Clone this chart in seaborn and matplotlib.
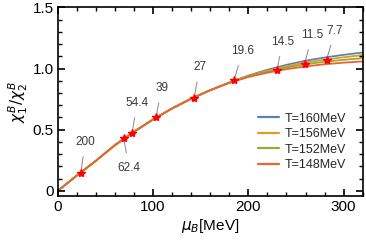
import numpy as np
import matplotlib
matplotlib.use('Agg')
import matplotlib.pyplot as plt
import seaborn as sns
import pandas as pd
from matplotlib.ticker import MultipleLocator, FuncFormatter

# ----------------------
# Data
mu_grid = [0, 20, 40, 60, 80, 100, 120, 140, 160, 180, 200, 220, 240, 260, 280, 300, 320]
ratio_160 = [0, 0.125, 0.245, 0.372, 0.482, 0.582, 0.672, 0.752, 0.823, 0.886, 0.943, 0.990, 1.030, 1.064, 1.090, 1.112, 1.131]
ratio_156 = [0, 0.125, 0.245, 0.373, 0.483, 0.583, 0.673, 0.753, 0.823, 0.885, 0.940, 0.982, 1.018, 1.049, 1.072, 1.092, 1.110]
ratio_152 = [0, 0.125, 0.246, 0.374, 0.484, 0.584, 0.674, 0.754, 0.823, 0.884, 0.936, 0.975, 1.008, 1.035, 1.055, 1.071, 1.085]
ratio_148 = [0, 0.126, 0.247, 0.375, 0.485, 0.585, 0.675, 0.755, 0.823, 0.882, 0.931, 0.966, 0.995, 1.017, 1.035, 1.048, 1.058]
temps = ['T=160MeV', 'T=156MeV', 'T=152MeV', 'T=148MeV']
colors = ['#5E81B5', '#E19C24', '#8FB032', '#EB6235']

# collision energies (GeV) and freeze-out points
energy_labels = ['200', '62.4', '54.4', '39', '27', '19.6', '14.5', '11.5', '7.7']
star_mu = [24, 69, 78, 103, 143, 185, 230, 259, 282]
star_ratio = [0.148, 0.43, 0.47, 0.60, 0.76, 0.905, 0.987, 1.04, 1.071]
label_x = [29, 75, 83, 109, 149, 194, 236, 267, 291]
label_y = [0.40, 0.19, 0.72, 0.84, 1.01, 1.145, 1.22, 1.275, 1.31]

rows = []
for t, vals in zip(temps, [ratio_160, ratio_156, ratio_152, ratio_148]):
    for m, v in zip(mu_grid, vals):
        rows.append({'mu': m, 'ratio': v, 'T': t})
df = pd.DataFrame(rows)

# ----------------------
sns.set_style('white')
plt.rcParams['font.family'] = ['Liberation Sans', 'DejaVu Sans']
plt.rcParams['mathtext.fontset'] = 'dejavusans'

fig = plt.figure(figsize=(3.66, 2.46), dpi=100)
ax = fig.add_axes([0.158, 0.203, 0.833, 0.767])

sns.lineplot(data=df, x='mu', y='ratio', hue='T', hue_order=temps,
             palette=colors, linewidth=1.3, ax=ax)
ax.plot(star_mu, star_ratio, linestyle='none', marker='*', color='red',
        markersize=6, zorder=5)

for lab, sx, sy, tx, ty in zip(energy_labels, star_mu, star_ratio, label_x, label_y):
    ax.annotate(lab, xy=(sx, sy), xytext=(tx, ty), fontsize=8.5, color='#3a3a3a',
                ha='center', va='center',
                arrowprops=dict(arrowstyle='-', color='#888888', lw=0.7,
                                shrinkA=4, shrinkB=1))

ax.set_xlim(0, 320)
ax.set_ylim(-0.043, 1.5)
ax.xaxis.set_major_locator(MultipleLocator(100))
ax.xaxis.set_minor_locator(MultipleLocator(20))
ax.yaxis.set_major_locator(MultipleLocator(0.5))
ax.yaxis.set_minor_locator(MultipleLocator(0.1))
ax.yaxis.set_major_formatter(FuncFormatter(lambda v, p: '0' if abs(v) < 1e-9 else f'{v:.1f}'))
ax.xaxis.set_ticks_position('both')
ax.yaxis.set_ticks_position('both')
ax.tick_params(axis='both', which='major', direction='in', length=5, width=1.2,
               color='black', labelcolor='black', labelsize=11, pad=3,
               bottom=True, top=True, left=True, right=True)
ax.tick_params(axis='both', which='minor', direction='in', length=3, width=1,
               color='black', bottom=True, top=True, left=True, right=True)
ax.set_axisbelow(False)
for s in ax.spines.values():
    s.set_linewidth(1.2)
    s.set_color('black')

ax.set_xlabel(r'$\mu_B$[MeV]', fontsize=11, labelpad=2, color='black')
ax.set_ylabel(r'$\chi_1^B/\chi_2^B$', fontsize=11, labelpad=2, color='black')

leg = ax.legend(loc='lower right', frameon=False, fontsize=9, handlelength=1.7,
                handletextpad=0.45, labelspacing=0.28, borderaxespad=0.3,
                bbox_to_anchor=(0.975, 0.085))
for line in leg.get_lines():
    line.set_linewidth(1.6)

fig.savefig('out.png', dpi=100)
